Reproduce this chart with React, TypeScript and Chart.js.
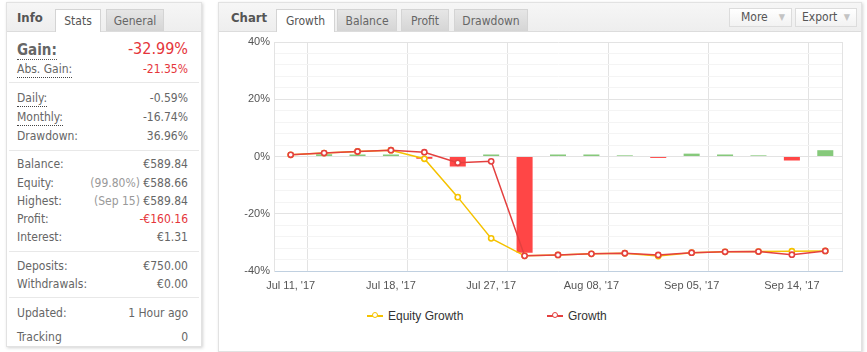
import React, { useEffect, useRef } from 'react';
import { Chart, registerables } from 'chart.js';

Chart.register(...registerables);

// ---- chart data ----
const categories = [
  "Jul 11, '17", "Jul 13, '17", "Jul 14, '17", "Jul 18, '17", "Jul 20, '17", "Jul 25, '17",
  "Jul 27, '17", "Jul 31, '17", "Aug 03, '17", "Aug 08, '17", "Aug 23, '17", "Aug 31, '17",
  "Sep 05, '17", "Sep 07, '17", "Sep 12, '17", "Sep 14, '17", "Sep 15, '17",
];
const growth = [0.6, 1.2, 1.75, 2.2, 1.5, -2.2, -1.7, -34.7, -34.4, -34.0, -33.8, -34.4, -33.6, -33.3, -33.2, -34.3, -32.99];
const equityGrowth = [0.6, 1.2, 1.75, 2.2, -0.8, -14.2, -28.6, -34.7, -34.4, -34.0, -33.8, -34.8, -33.6, -33.3, -33.2, -33.1, -32.99];
const periodChange = [null, 0.8, 0.7, 0.7, -0.8, -3.5, 0.7, -33.6, 0.7, 0.7, 0.4, -0.5, 1.0, 0.7, 0.4, -1.4, 2.2];
const yMin = -40;
const yMax = 40;
const yStep = 4;
const yLabelEvery = 20;
const labelEvery = 3;

const seriesNames = ['Equity Growth', 'Growth'];
const seriesColors = ['#f5c200', '#e4403f'];
const GREEN = '#86c97b';
const RED = '#ff4646';

// ---- stats panel text ----
const statRows = [
  { label: 'Abs. Gain:', value: '-21.35%', red: true, dotted: true, y: 68 },
  { label: 'Daily:', value: '-0.59%', dotted: true, y: 97 },
  { label: 'Monthly:', value: '-16.74%', dotted: true, y: 116 },
  { label: 'Drawdown:', value: '36.96%', y: 135 },
  { label: 'Balance:', value: '€589.84', y: 163 },
  { label: 'Equity:', pre: '(99.80%)', value: '€588.66', y: 182 },
  { label: 'Highest:', pre: '(Sep 15)', value: '€589.84', y: 200 },
  { label: 'Profit:', value: '-€160.16', red: true, y: 218 },
  { label: 'Interest:', value: '€1.31', y: 236 },
  { label: 'Deposits:', value: '€750.00', y: 265 },
  { label: 'Withdrawals:', value: '€0.00', y: 283 },
  { label: 'Updated:', value: '1 Hour ago', y: 312 },
  { label: 'Tracking', value: '0', y: 336 },
];
const separators = [82, 150, 251, 297];

const PANEL_FONT = "'DejaVu Sans Condensed', Tahoma, 'Liberation Sans', Arial, sans-serif";
const CHART_FONT = "'Liberation Sans', Arial, sans-serif";

function GrowthChart() {
  const ref = useRef<HTMLCanvasElement | null>(null);
  useEffect(() => {
    if (!ref.current) return;
    const chart = new Chart(ref.current, {
      type: 'bar',
      data: {
        labels: categories,
        datasets: [
          {
            type: 'line',
            label: seriesNames[1],
            data: growth,
            borderColor: seriesColors[1],
            backgroundColor: '#ffffff',
            pointBackgroundColor: '#ffffff',
            pointBorderColor: seriesColors[1],
            pointRadius: 2.6,
            pointBorderWidth: 1.6,
            borderWidth: 1.5,
            tension: 0,
            order: 0,
          } as any,
          {
            type: 'line',
            label: seriesNames[0],
            data: equityGrowth,
            borderColor: seriesColors[0],
            backgroundColor: '#ffffff',
            pointBackgroundColor: '#ffffff',
            pointBorderColor: seriesColors[0],
            pointRadius: 2.6,
            pointBorderWidth: 1.6,
            borderWidth: 1.5,
            tension: 0,
            order: 1,
          } as any,
          {
            type: 'bar',
            label: 'Change',
            data: periodChange as any,
            backgroundColor: (c: any) => ((c.raw ?? 0) >= 0 ? GREEN : RED),
            borderWidth: 0,
            categoryPercentage: 1,
            barPercentage: 0.48,
            order: 2,
          } as any,
        ],
      },
      options: {
        responsive: false,
        animation: false,
        layout: { padding: { top: 11, right: 20, left: 0, bottom: 0 } },
        plugins: { legend: { display: false }, tooltip: { enabled: false } },
        scales: {
          x: {
            type: 'category',
            offset: true,
            afterFit: (s: any) => { s.height = 30; },
            grid: {
              offset: true,
              drawTicks: false,
              color: (c: any) => (c.type === 'scale' || c.index % labelEvery === 1 ? '#e3e3e3' : 'rgba(0,0,0,0)'),
            },
            border: { display: true, color: '#c0d0e0', width: 1 },
            ticks: {
              autoSkip: false,
              maxRotation: 0,
              padding: 8,
              color: '#555555',
              font: { family: CHART_FONT, size: 11 },
              callback: (_v: any, i: number) => (i % labelEvery === 0 ? categories[i] : ''),
            },
          },
          y: {
            min: yMin,
            max: yMax,
            afterFit: (s: any) => { s.width = 55; },
            grid: {
              drawTicks: false,
              color: (c: any) => (c.tick && c.tick.value % yLabelEvery === 0 ? '#e3e3e3' : '#f4f4f4'),
            },
            border: { display: true, color: '#e3e3e3' },
            ticks: {
              stepSize: yStep,
              autoSkip: false,
              padding: 4,
              color: '#555555',
              font: { family: CHART_FONT, size: 11 },
              callback: (v: any) => (Number(v) % yLabelEvery === 0 ? `${v}%` : ''),
            },
          },
        },
      } as any,
    });
    return () => chart.destroy();
  }, []);
  return (
    <canvas
      ref={ref}
      width={643}
      height={270}
      style={{ position: 'absolute', left: 219, top: 31, width: 643, height: 270 }}
    />
  );
}

const tabBase: React.CSSProperties = {
  position: 'absolute',
  top: 6,
  height: 22,
  lineHeight: '22px',
  textAlign: 'center',
  fontSize: 12,
  color: '#555',
  boxSizing: 'border-box',
  border: '1px solid #d4d4d4',
  borderBottom: 'none',
};
const activeTab: React.CSSProperties = { ...tabBase, background: '#ffffff', height: 23 };
const inactiveTab: React.CSSProperties = { ...tabBase, background: 'linear-gradient(#e6e6e6, #d5d5d5)', color: '#666' };

const panel: React.CSSProperties = {
  position: 'absolute',
  background: '#fff',
  border: '1px solid #e2e2e2',
  boxShadow: '1px 1px 3px rgba(0,0,0,0.18)',
  boxSizing: 'border-box',
  fontFamily: PANEL_FONT,
  overflow: 'hidden',
};
const header: React.CSSProperties = {
  position: 'absolute',
  left: 0,
  top: 0,
  right: 0,
  height: 28,
  background: 'linear-gradient(#f6f6f6, #eeeeee)',
  borderBottom: '1px solid #dcdcdc',
};

function LegendItem({ x, color, text }: { x: number; color: string; text: string }) {
  return (
    <div style={{ position: 'absolute', left: x, top: 308, height: 16, width: 260 }}>
      <div style={{ position: 'absolute', left: 0, top: 7, width: 16, height: 2, background: color }} />
      <div
        style={{
          position: 'absolute', left: 5, top: 4, width: 6, height: 6, borderRadius: '50%',
          border: `1.5px solid ${color}`, background: '#fff', boxSizing: 'border-box',
        }}
      />
      <div style={{ position: 'absolute', left: 21, top: 0, lineHeight: '16px', fontSize: 12, color: '#333', fontFamily: CHART_FONT, whiteSpace: 'nowrap' }}>
        {text}
      </div>
    </div>
  );
}

export default function App() {
  return (
    <div style={{ position: 'absolute', left: 0, top: 0, width: 867, height: 352, background: '#fff', overflow: 'hidden' }}>
      {/* Info panel */}
      <div style={{ ...panel, left: 6, top: 2, width: 196, height: 345 }}>
        <div style={header}>
          <div style={{ position: 'absolute', left: 10, top: 0, lineHeight: '30px', fontSize: 13, fontWeight: 'bold', color: '#555' }}>Info</div>
          <div style={{ ...activeTab, left: 48, width: 46 }}>Stats</div>
          <div style={{ ...inactiveTab, left: 99, width: 58 }}>General</div>
        </div>
        <div style={{ position: 'absolute', left: 10, top: 37, lineHeight: '20px' }}>
          <span style={{ fontSize: 15, fontWeight: 'bold', color: '#666', borderBottom: '1px dotted #555', paddingBottom: 0 }}>Gain:</span>
        </div>
        <div style={{ position: 'absolute', right: 13, top: 36, lineHeight: '20px', fontSize: 16, color: '#e5353b' }}>-32.99%</div>
        {statRows.map((r) => (
          <React.Fragment key={r.label}>
            <div style={{ position: 'absolute', left: 10, top: r.y - 11, lineHeight: '18px', fontSize: 12, color: '#666' }}>
              <span style={r.dotted ? { borderBottom: '1px dotted #444', paddingBottom: 1 } : undefined}>{r.label}</span>
            </div>
            <div style={{ position: 'absolute', right: 13, top: r.y - 11, lineHeight: '18px', fontSize: 12, color: r.red ? '#e5353b' : '#666', whiteSpace: 'nowrap' }}>
              {r.pre ? <span style={{ color: '#999' }}>{r.pre} </span> : null}
              {r.value}
            </div>
          </React.Fragment>
        ))}
        {separators.map((y) => (
          <div key={y} style={{ position: 'absolute', left: 2, right: 2, top: y - 3, height: 1, background: '#e8e8e8' }} />
        ))}
      </div>

      {/* Chart panel */}
      <div style={{ ...panel, left: 218, top: 2, width: 644, height: 350 }}>
        <div style={header}>
          <div style={{ position: 'absolute', left: 12, top: 0, lineHeight: '30px', fontSize: 13, fontWeight: 'bold', color: '#555' }}>Chart</div>
          <div style={{ ...activeTab, left: 57, width: 59 }}>Growth</div>
          <div style={{ ...inactiveTab, left: 118, width: 60 }}>Balance</div>
          <div style={{ ...inactiveTab, left: 182, width: 48 }}>Profit</div>
          <div style={{ ...inactiveTab, left: 235, width: 74 }}>Drawdown</div>
          <div style={{ position: 'absolute', left: 510, top: 5, width: 63, height: 19, boxSizing: 'border-box', border: '1px solid #dcdcdc', background: 'linear-gradient(#ffffff, #f2f2f2)', fontSize: 12, color: '#555', lineHeight: '17px' }}>
            <span style={{ position: 'absolute', left: 11 }}>More</span>
            <span style={{ position: 'absolute', right: 6, color: '#c4c4c4', fontSize: 9 }}>▼</span>
          </div>
          <div style={{ position: 'absolute', left: 576, top: 5, width: 62, height: 19, boxSizing: 'border-box', border: '1px solid #dcdcdc', background: 'linear-gradient(#ffffff, #f2f2f2)', fontSize: 12, color: '#555', lineHeight: '17px' }}>
            <span style={{ position: 'absolute', left: 6 }}>Export</span>
            <span style={{ position: 'absolute', right: 6, color: '#c4c4c4', fontSize: 9 }}>▼</span>
          </div>
        </div>
      </div>
      <GrowthChart />
      <LegendItem x={367} color={seriesColors[0]} text={seriesNames[0]} />
      <LegendItem x={547} color={seriesColors[1]} text={seriesNames[1]} />
    </div>
  );
}
